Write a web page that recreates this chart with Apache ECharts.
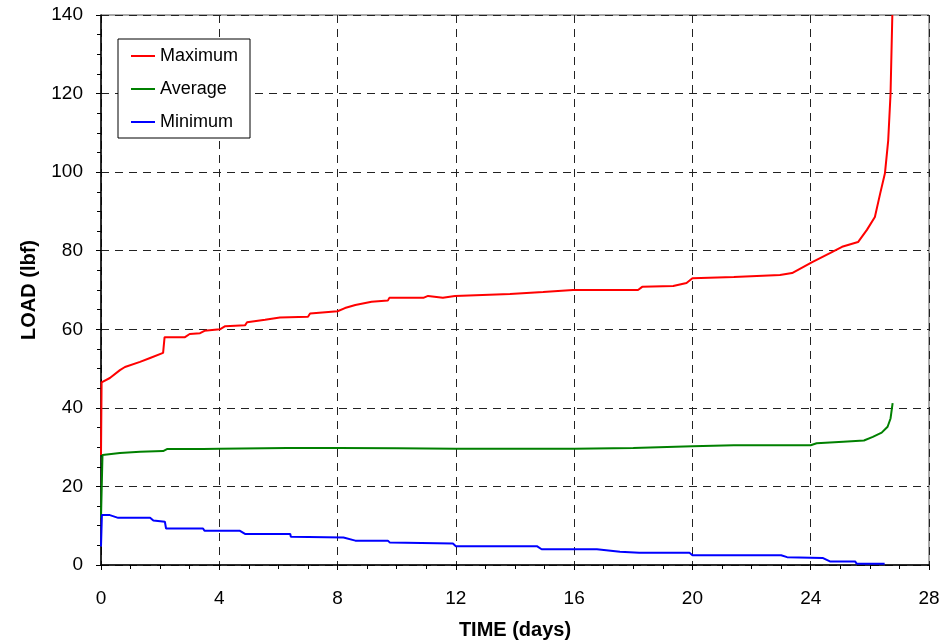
<!DOCTYPE html>
<html>
<head>
<meta charset="utf-8">
<script src="https://cdn.jsdelivr.net/npm/echarts@6/dist/echarts.min.js"></script>
<style>
  html, body { margin: 0; padding: 0; background: #fff; }
  #chart { width: 943px; height: 642px; }
</style>
</head>
<body>
<div id="chart"></div>
<script>
// values (day, load in lbf)
const maxDays = [0, 0.02, 0.3, 0.64, 0.81, 1.32, 1.66, 2.1, 2.15, 2.84, 3.0, 3.35, 3.5, 4.02, 4.2, 4.87, 4.94, 5.55, 6.05, 7.0, 7.07, 8.0, 8.25, 8.6, 9.15, 9.7, 9.75, 10.9, 11.06, 11.56, 11.97, 13.83, 14.95, 15.96, 18.16, 18.3, 19.35, 19.8, 20.0, 21.4, 22.96, 23.37, 24.05, 24.65, 25.06, 25.6, 25.9, 26.17, 26.35, 26.51, 26.62, 26.7, 26.76];
const maxLoad = [28, 46.5, 47.6, 49.6, 50.4, 51.7, 52.7, 54, 58, 58, 58.8, 59, 59.6, 60, 60.8, 61, 61.8, 62.4, 63, 63.2, 64, 64.6, 65.4, 66.2, 67, 67.3, 68, 68, 68.5, 68, 68.5, 69, 69.5, 70, 70, 70.8, 71, 71.8, 73, 73.3, 73.8, 74.3, 77.1, 79.4, 81, 82.2, 85.3, 88.6, 94.6, 99.7, 108, 120, 140];

const avgDays = [0, 0.05, 0.64, 1.32, 2.1, 2.23, 3.45, 4.0, 6.3, 8.0, 10, 12, 16, 18, 20, 21.4, 24.0, 24.2, 25.1, 25.8, 26.1, 26.4, 26.6, 26.7, 26.77];
const avgLoad = [12, 28, 28.5, 28.8, 29, 29.5, 29.5, 29.6, 29.8, 29.8, 29.7, 29.6, 29.6, 29.8, 30.2, 30.5, 30.5, 31, 31.4, 31.7, 32.6, 33.7, 35.2, 37.3, 41.2];

const minDays = [0, 0.03, 0.3, 0.58, 1.66, 1.77, 2.16, 2.2, 3.45, 3.5, 4.7, 4.87, 6.4, 6.42, 8.2, 8.26, 8.6, 9.7, 9.77, 11.9, 12.0, 14.74, 14.9, 16.77, 17.55, 18.2, 19.9, 20.0, 23.0, 23.2, 24.4, 24.65, 25.5, 25.56, 26.5];
const minLoad = [4.7, 12.7, 12.7, 12, 12, 11.3, 11, 9.3, 9.3, 8.7, 8.7, 7.9, 7.9, 7.2, 7.0, 6.6, 6.2, 6.2, 5.7, 5.5, 4.8, 4.8, 4.0, 4.0, 3.4, 3.1, 3.1, 2.5, 2.5, 2.0, 1.8, 0.9, 0.9, 0.3, 0.3];

const seriesNames = ['Maximum', 'Average', 'Minimum'];

const pairs = (xs, ys) => xs.map((x, i) => [x, ys[i]]);
const FONT = 'Arial, "Liberation Sans", sans-serif';

const chart = echarts.init(document.getElementById('chart'), null, { renderer: 'canvas' });

const axisCommon = {
  axisLine: { show: true, lineStyle: { color: '#000', width: 1.5 } },
  axisTick: { show: true, inside: false, length: 5, lineStyle: { color: '#000', width: 1 } },
  minorTick: { show: true, splitNumber: 4, length: 4, lineStyle: { color: '#000', width: 1 } },
  splitLine: { show: true, lineStyle: { color: '#222', width: 1, type: [8, 6] } },
  axisLabel: { color: '#000', fontSize: 19, fontFamily: FONT },
  nameLocation: 'middle',
  nameTextStyle: { color: '#000', fontSize: 20, fontWeight: 'bold', fontFamily: FONT }
};

chart.setOption({
  animation: false,
  backgroundColor: '#fff',
  grid: {
    left: 101, right: 14, top: 15, bottom: 77,
    outerBoundsMode: 'none',
    show: true, borderColor: '#555', borderWidth: 1
  },
  legend: {
    data: seriesNames,
    orient: 'vertical',
    left: 118, top: 39,
    backgroundColor: '#fff',
    borderColor: '#000', borderWidth: 1,
    padding: [8, 12, 7, 13],
    icon: 'rect',
    itemWidth: 24, itemHeight: 2, itemGap: 15,
    textStyle: { color: '#000', fontSize: 18, fontFamily: FONT }
  },
  xAxis: Object.assign({}, axisCommon, {
    type: 'value', min: 0, max: 28, interval: 4,
    name: 'TIME (days)', nameGap: 55,
    axisLabel: Object.assign({}, axisCommon.axisLabel, { margin: 24 })
  }),
  yAxis: Object.assign({}, axisCommon, {
    type: 'value', min: 0, max: 140, interval: 20,
    name: 'LOAD (lbf)', nameGap: 62,
    axisLabel: Object.assign({}, axisCommon.axisLabel, { margin: 18 })
  }),
  series: [
    { name: seriesNames[0], type: 'line', symbol: 'none', data: pairs(maxDays, maxLoad),
      lineStyle: { color: '#ff0000', width: 2 }, itemStyle: { color: '#ff0000' } },
    { name: seriesNames[1], type: 'line', symbol: 'none', data: pairs(avgDays, avgLoad),
      lineStyle: { color: '#008000', width: 2 }, itemStyle: { color: '#008000' } },
    { name: seriesNames[2], type: 'line', symbol: 'none', data: pairs(minDays, minLoad),
      lineStyle: { color: '#0000ff', width: 2 }, itemStyle: { color: '#0000ff' } }
  ]
});
</script>
</body>
</html>
